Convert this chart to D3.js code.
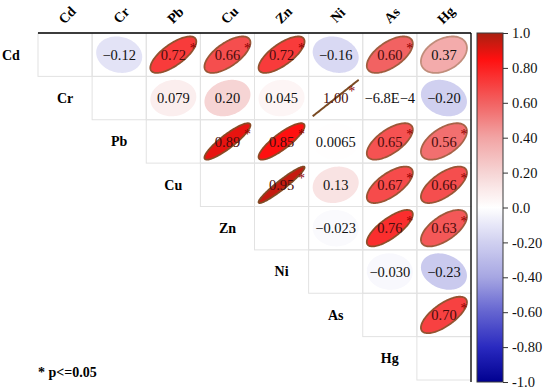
<!DOCTYPE html>
<html>
<head>
<meta charset="utf-8">
<script src="https://cdn.jsdelivr.net/npm/d3@7"></script>
<style>
  body { margin: 0; background: #fff; }
  svg { display: block; font-family: "Liberation Serif", "Times New Roman", serif; }
</style>
</head>
<body>
<div id="chart"></div>
<script>
const width = 550;
const height = 391;

const vars = ["Cd", "Cr", "Pb", "Cu", "Zn", "Ni", "As", "Hg"];

// upper triangle, row by row
const rowCd = [-0.12, 0.72, 0.66, 0.72, -0.16, 0.60, 0.37];
const rowCr = [0.079, 0.20, 0.045, 1.00, -0.00068, -0.20];
const rowPb = [0.89, 0.85, 0.0065, 0.65, 0.56];
const rowCu = [0.95, 0.13, 0.67, 0.66];
const rowZn = [-0.023, 0.76, 0.63];
const rowNi = [-0.030, -0.23];
const rowAs = [0.70];

const labCd = ["−0.12", "0.72", "0.66", "0.72", "−0.16", "0.60", "0.37"];
const labCr = ["0.079", "0.20", "0.045", "1.00", "−6.8E−4", "−0.20"];
const labPb = ["0.89", "0.85", "0.0065", "0.65", "0.56"];
const labCu = ["0.95", "0.13", "0.67", "0.66"];
const labZn = ["−0.023", "0.76", "0.63"];
const labNi = ["−0.030", "−0.23"];
const labAs = ["0.70"];

const sigCd = [0, 1, 1, 1, 0, 1, 0];
const sigCr = [0, 0, 0, 1, 0, 0];
const sigPb = [1, 1, 0, 1, 1];
const sigCu = [1, 0, 1, 1];
const sigZn = [0, 1, 1];
const sigNi = [0, 0];
const sigAs = [1];

const barTicks = [1.0, 0.8, 0.6, 0.4, 0.2, 0.0, -0.2, -0.4, -0.6, -0.8, -1.0];
const barTickLabels = ["1.0", "0.80", "0.60", "0.40", "0.20", "0.0", "-0.20", "-0.40", "-0.60", "-0.80", "-1.0"];

// colour ramp
const rampStops = [-1, -0.8, -0.6, -0.4, -0.2, 0, 0.2, 0.4, 0.6, 0.85, 1];
const rampColors = ["#000090", "#2a2ac0", "#6464d0", "#a6a6e2", "#d0d0f0", "#ffffff",
                    "#f6d4d4", "#f2a4a4", "#f26262", "#ff1010", "#a82010"];

const rows = [rowCd, rowCr, rowPb, rowCu, rowZn, rowNi, rowAs];
const labs = [labCd, labCr, labPb, labCu, labZn, labNi, labAs];
const sigs = [sigCd, sigCr, sigPb, sigCu, sigZn, sigNi, sigAs];

const cells = [];
rows.forEach((row, i) => {
  row.forEach((r, k) => {
    cells.push({ row: vars[i], col: vars[i + 1 + k], r: r, label: labs[i][k], sig: sigs[i][k] });
  });
});

const svg = d3.select("#chart")
  .append("svg")
  .attr("width", width)
  .attr("height", height);

const mLeft = 38, mTop = 33, mRight = 471, mBottom = 380;

const x = d3.scaleBand().domain(vars).range([mLeft, mRight]);
const y = d3.scaleBand().domain(vars).range([mTop, mBottom]);
const cw = x.bandwidth(), ch = y.bandwidth();

const color = d3.scaleLinear()
  .domain(rampStops)
  .range(rampColors)
  .interpolate(d3.interpolateRgb);

// grid cells (upper triangle incl. diagonal)
const gridCells = [];
vars.forEach((rv, i) => vars.forEach((cv, j) => { if (j >= i) gridCells.push({ row: rv, col: cv }); }));

svg.append("g")
  .selectAll("rect")
  .data(gridCells)
  .join("rect")
  .attr("x", d => x(d.col))
  .attr("y", d => y(d.row))
  .attr("width", cw)
  .attr("height", ch)
  .attr("fill", "none")
  .attr("stroke", "#e2e2e2")
  .attr("stroke-width", 1);

// frame lines
svg.append("line").attr("x1", mLeft).attr("x2", mRight).attr("y1", mTop).attr("y2", mTop)
  .attr("stroke", "#000").attr("stroke-width", 1.3);
svg.append("line").attr("x1", mRight).attr("x2", mRight).attr("y1", mTop).attr("y2", mBottom + 2)
  .attr("stroke", "#000").attr("stroke-width", 1.3);

// ellipses (corrplot style)
const sx = cw / 2 * 0.85, sy = ch / 2 * 0.84;
const ellipse = r => {
  const d = Math.acos(Math.max(-1, Math.min(1, r)));
  const pts = d3.range(0, 2 * Math.PI + 0.01, Math.PI / 60)
    .map(t => [Math.cos(t + d / 2) * sx, -Math.cos(t - d / 2) * sy]);
  return d3.line()(pts) + "Z";
};

const cellG = svg.append("g")
  .selectAll("g")
  .data(cells)
  .join("g")
  .attr("transform", d => `translate(${x(d.col) + cw / 2},${y(d.row) + ch / 2})`);

cellG.append("path")
  .attr("d", d => ellipse(d.r))
  .attr("fill", d => color(d.r))
  .attr("stroke", d => d.r > 0.25 ? d3.interpolateRgb(color(d.r), "#6a5a2a")(Math.min(0.75, d.r)) : "none")
  .attr("stroke-width", d => d.r >= 0.99 ? 2 : 1.8);

cellG.append("text")
  .attr("text-anchor", "middle")
  .attr("dy", "0.35em")
  .attr("font-size", 14.5)
  .attr("fill", d => d.sig ? "#4a0c0c" : "#111")
  .text(d => d.label);

cellG.filter(d => d.sig).append("text")
  .attr("x", d => d.r >= 0.99 ? 16 : 20)
  .attr("y", -2)
  .attr("font-size", 14)
  .attr("fill", "#8b0000")
  .attr("text-anchor", "middle")
  .text("*");

// row labels
svg.append("g")
  .selectAll("text")
  .data(vars)
  .join("text")
  .attr("x", (d, i) => mLeft + cw * (i - 0.5))
  .attr("y", d => y(d) + ch / 2)
  .attr("dy", "0.35em")
  .attr("text-anchor", "middle")
  .attr("font-weight", "bold")
  .attr("font-size", 14)
  .text(d => d);

// column labels
svg.append("g")
  .selectAll("text")
  .data(vars)
  .join("text")
  .attr("transform", d => `translate(${x(d) + cw / 2 + 2},${15}) rotate(-45)`)
  .attr("text-anchor", "middle")
  .attr("dy", "0.35em")
  .attr("font-weight", "bold")
  .attr("font-size", 14)
  .text(d => d);

// colorbar
const barX = 477, barW = 26;
const yBar = d3.scaleLinear().domain([1, -1]).range([mTop, mBottom + 2]);

const grad = svg.append("defs").append("linearGradient")
  .attr("id", "cbar").attr("x1", 0).attr("x2", 0).attr("y1", 0).attr("y2", 1);
grad.selectAll("stop")
  .data(d3.range(0, 41))
  .join("stop")
  .attr("offset", d => d / 40)
  .attr("stop-color", d => color(1 - d / 20));

svg.append("rect")
  .attr("x", barX).attr("y", mTop)
  .attr("width", barW).attr("height", mBottom + 2 - mTop)
  .attr("fill", "url(#cbar)")
  .attr("stroke", "#3a3a3a")
  .attr("stroke-width", 1);

const axis = d3.axisRight(yBar)
  .tickValues(barTicks)
  .tickFormat((d, i) => barTickLabels[i])
  .tickSize(5)
  .tickPadding(4);

const gAxis = svg.append("g")
  .attr("transform", `translate(${barX + barW},0)`)
  .call(axis);
gAxis.select(".domain").remove();
gAxis.selectAll("text")
  .attr("font-family", "Liberation Serif, serif")
  .attr("font-size", 14.5)
  .attr("fill", "#111");
gAxis.selectAll("line").attr("stroke", "#333");

// note
svg.append("text")
  .attr("x", mLeft)
  .attr("y", 377)
  .attr("font-weight", "bold")
  .attr("font-size", 14)
  .text("* p<=0.05");
</script>
</body>
</html>
